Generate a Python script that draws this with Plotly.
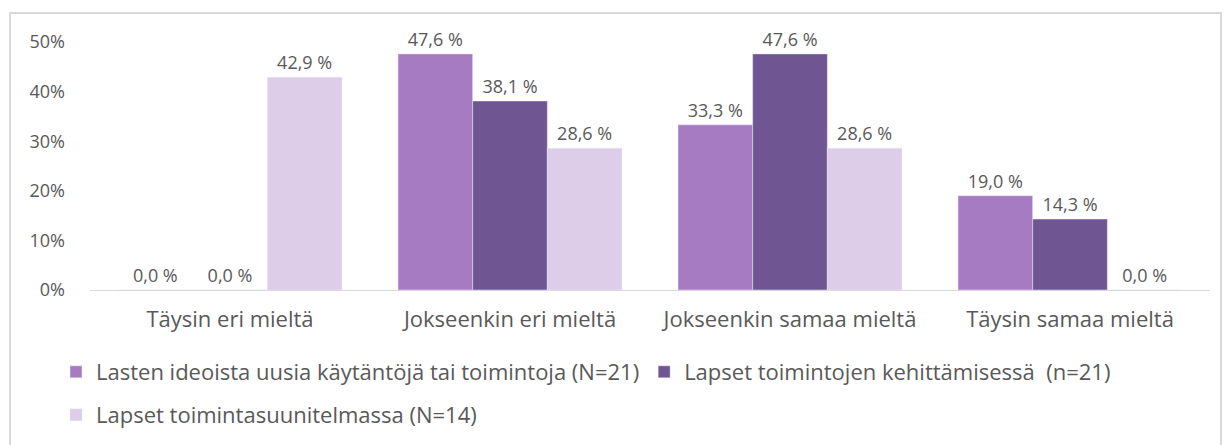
import plotly.graph_objects as go

categories = ["Täysin eri mieltä", "Jokseenkin eri mieltä", "Jokseenkin samaa mieltä", "Täysin samaa mieltä"]
series_names = [
    "Lasten ideoista uusia käytäntöjä tai toimintoja (N=21)",
    "Lapset toimintojen kehittämisessä  (n=21)",
    "Lapset toimintasuunitelmassa (N=14)",
]
s1 = [0.0, 47.6, 33.3, 19.0]
s2 = [0.0, 38.1, 47.6, 14.3]
s3 = [42.9, 28.6, 28.6, 0.0]
colors = ["#A77BC1", "#6F5591", "#DDCDE8"]
legends = ["legend", "legend", "legend2"]
y_ticks = [0, 10, 20, 30, 40, 50]

FONT = "Open Sans"
TXT = "#595959"
NUM_SIZE = 18
TXT_SIZE = 22

def lab(v):
    return f"{v:.1f} %".replace(".", ",")

fig = go.Figure()
for name, vals, col, lg in zip(series_names, [s1, s2, s3], colors, legends):
    fig.add_trace(go.Bar(
        x=categories, y=vals, name=name, marker_color=col, legend=lg,
        text=[lab(v) for v in vals], textposition="outside",
        textfont=dict(family=FONT, size=NUM_SIZE, color=TXT),
        cliponaxis=False,
    ))

W, H = 1226, 445
L, R, T, B = 90, 16, 42, 155
pw, ph = W - L - R, H - T - B

def px_x(x):
    return (x - L) / pw

def px_y(y):
    return (H - B - y) / ph

leg_common = dict(
    orientation="h", xanchor="left", yanchor="middle",
    font=dict(family=FONT, size=TXT_SIZE, color=TXT),
    itemwidth=30, bgcolor="rgba(0,0,0,0)",
)

fig.update_layout(
    width=W, height=H,
    margin=dict(l=L, r=R, t=T, b=B, pad=0, autoexpand=False),
    paper_bgcolor="white", plot_bgcolor="white",
    barmode="group", bargap=0.2, bargroupgap=0,
    font=dict(family=FONT, size=NUM_SIZE, color=TXT),
    showlegend=True,
    legend=dict(x=px_x(56), y=px_y(372), **leg_common),
    legend2=dict(x=px_x(56), y=px_y(415), **leg_common),
    xaxis=dict(
        showline=True, linecolor="#D9D9D9", linewidth=1, ticks="",
        showgrid=False, tickfont=dict(family=FONT, size=TXT_SIZE, color=TXT),
        ticklabelstandoff=10, automargin=False,
    ),
    yaxis=dict(
        range=[0, 50], tickvals=y_ticks, ticktext=[f"{v}%" for v in y_ticks],
        showgrid=False, zeroline=False, showline=False, ticks="",
        tickfont=dict(family=FONT, size=NUM_SIZE, color=TXT),
        ticklabelstandoff=24, automargin=False,
    ),
    shapes=[dict(
        type="rect", xref="paper", yref="paper",
        x0=px_x(10), x1=px_x(1221), y0=px_y(460), y1=px_y(13),
        line=dict(color="#D9D9D9", width=2), fillcolor="rgba(0,0,0,0)", layer="below",
    )],
)

fig.write_html(
    "out.html",
    config={"displayModeBar": False},
    post_script="document.body.style.margin='0';document.body.style.overflow='hidden';",
)
